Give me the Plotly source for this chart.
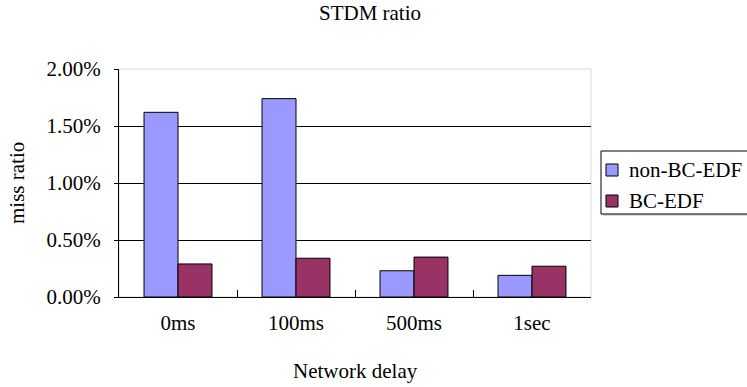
import plotly.graph_objects as go

categories = ["0ms", "100ms", "500ms", "1sec"]
non_bc_edf = [0.0162, 0.0174, 0.0023, 0.0019]
bc_edf = [0.0029, 0.0034, 0.0035, 0.0027]
y_ticks = [0, 0.005, 0.01, 0.015, 0.02]
series_names = ["non-BC-EDF", "BC-EDF"]
series_colors = ["#9999FF", "#993366"]

FONT = "Liberation Serif, Times New Roman, serif"
FS = 21

# plot area in pixels
L, R, T, B = 119, 591, 69, 297
PW, PH = R - L, B - T


def px(x):
    return (x - L) / PW


def py(y):
    return (B - y) / PH


fig = go.Figure()
for name, vals, col in zip(series_names, [non_bc_edf, bc_edf], series_colors):
    fig.add_trace(go.Bar(name=name, x=categories, y=vals, showlegend=False,
                         marker=dict(color=col, line=dict(color="black", width=1))))

shapes = [
    dict(type="rect", xref="paper", yref="paper", x0=0, y0=0, x1=1, y1=1,
         line=dict(color="#d8d8d8", width=1), layer="below"),
    # legend shadow + box
    dict(type="rect", xref="paper", yref="paper", x0=px(603), x1=px(780),
         y0=py(216), y1=py(153), line=dict(width=0), fillcolor="#d9d9d9"),
    dict(type="rect", xref="paper", yref="paper", x0=px(601), x1=px(780),
         y0=py(214), y1=py(151), line=dict(color="black", width=1), fillcolor="white"),
]
annotations = [
    dict(text="Network delay", xref="paper", yref="paper", x=0.5, y=py(371),
         xanchor="center", yanchor="middle", showarrow=False,
         font=dict(family=FONT, size=FS, color="black")),
    dict(text="miss ratio", xref="paper", yref="paper", x=px(17), y=0.5,
         xanchor="center", yanchor="middle", textangle=-90, showarrow=False,
         font=dict(family=FONT, size=FS, color="black")),
]
row_y = [170, 201]
for name, col, ry in zip(series_names, series_colors, row_y):
    shapes.append(dict(type="rect", xref="paper", yref="paper", x0=px(606), x1=px(618),
                       y0=py(ry + 6), y1=py(ry - 6), fillcolor=col,
                       line=dict(color="black", width=1)))
    annotations.append(dict(text=name, xref="paper", yref="paper", x=px(627), y=py(ry),
                            xanchor="left", yanchor="middle", showarrow=False,
                            font=dict(family=FONT, size=FS, color="black")))

fig.update_layout(
    width=747, height=387,
    margin=dict(l=L, r=747 - R, t=T, b=387 - B, autoexpand=False),
    paper_bgcolor="white", plot_bgcolor="white",
    font=dict(family=FONT, size=FS, color="black"),
    barmode="group", bargap=0.424, bargroupgap=0,
    title=dict(text="STDM ratio", x=370 / 747, xref="container",
               y=1 - 13 / 387, yanchor="middle", xanchor="center",
               font=dict(family=FONT, size=FS, color="black")),
    showlegend=False,
    xaxis=dict(showline=True, linecolor="black", linewidth=1,
               ticks="inside", tickson="boundaries", ticklen=7, tickcolor="black",
               showgrid=False, ticklabelstandoff=7, tickfont=dict(size=FS)),
    yaxis=dict(range=[0, 0.02], tickvals=y_ticks, tickformat=".2%",
               showline=True, linecolor="black", linewidth=1,
               ticks="outside", ticklen=4, tickcolor="black",
               showgrid=True, gridcolor="black", gridwidth=1,
               zeroline=False, ticklabelstandoff=9, tickfont=dict(size=FS)),
    shapes=shapes,
    annotations=annotations,
)

fig.write_html("out.html", config={"displayModeBar": False},
               post_script="document.body.style.margin='0px';")
